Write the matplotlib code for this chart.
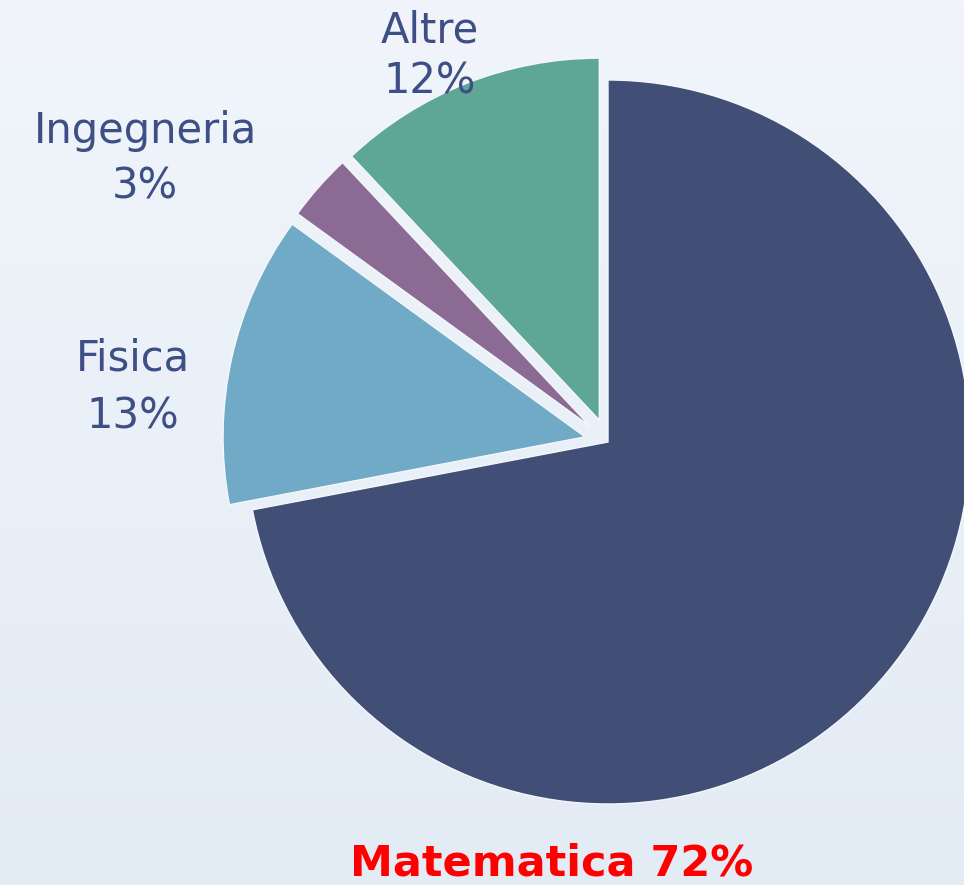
import numpy as np
import matplotlib
matplotlib.use('Agg')
import matplotlib.pyplot as plt
from matplotlib.colors import LinearSegmentedColormap

# Data
categories = ['Matematica', 'Fisica', 'Ingegneria', 'Altre']
values = [72, 13, 3, 12]

# Styling
colors = ['#414F77', '#71AAC6', '#8B6B93', '#5FA795']
explode = [0, 0.065, 0.065, 0.065]
label_color = '#3D4F85'
highlight_color = '#FF0000'

W, H = 964, 885
SCALE = 362.0          # pie radius in pixels
CX, CY = 608, 442      # pie centre in pixels (from top-left)


def px(x, y):
    """Pixel position (top-left origin) -> data coords of the unit pie."""
    return (x - CX) / SCALE, (CY - y) / SCALE


fig = plt.figure(figsize=(W / 100, H / 100), dpi=100)
ax = fig.add_axes([0, 0, 1, 1])

x0, y_top = px(0, 0)
x1, y_bot = px(W, H)

# soft background gradient
bg = LinearSegmentedColormap.from_list('bg', ['#F1F5FB', '#E3EBF4'])
grad = np.linspace(0, 1, 256).reshape(-1, 1)
ax.imshow(grad, cmap=bg, extent=[x0, x1, y_bot, y_top], aspect='auto',
          zorder=0, origin='upper')

wedges, _ = ax.pie(values, colors=colors, startangle=90, counterclock=False,
                   explode=explode, radius=1.0, center=(0, 0),
                   wedgeprops=dict(edgecolor='#F4F7FB', linewidth=1.0))
for w in wedges:
    w.set_zorder(2)

# labels (x centre, baseline of name, baseline of percentage)
font = ['DejaVu Sans']
label_pos = {'Fisica': (133, 370, 428), 'Ingegneria': (145, 143, 198),
             'Altre': (430, 42, 93)}
for cat, val in zip(categories, values):
    if cat == 'Matematica':
        tx, ty = px(552, 876)
        ax.text(tx, ty, f'{cat} {val}%', ha='center', va='baseline',
                fontsize=31, fontweight='bold', color=highlight_color,
                family=font, zorder=3)
    else:
        lx, b1, b2 = label_pos[cat]
        tx, ty = px(lx, b1)
        ax.text(tx, ty, cat, ha='center', va='baseline', fontsize=30,
                color=label_color, family=font, zorder=3)
        tx, ty = px(lx, b2)
        ax.text(tx, ty, f'{val}%', ha='center', va='baseline', fontsize=30,
                color=label_color, family=font, zorder=3)

ax.set_xlim(x0, x1)
ax.set_ylim(y_bot, y_top)
ax.set_aspect('auto')
ax.axis('off')

fig.savefig('out.png', dpi=100)
